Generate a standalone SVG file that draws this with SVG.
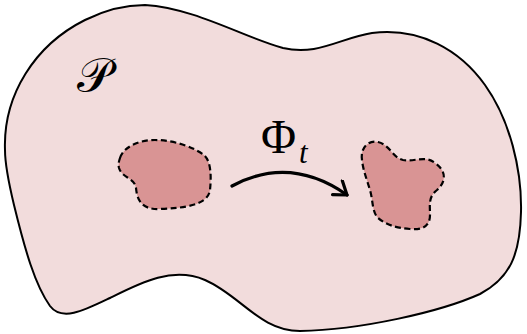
<svg xmlns="http://www.w3.org/2000/svg" width="527" height="334" viewBox="0 0 527 334">
<style>
.outer{fill:#f2dcdc;stroke:#000;stroke-width:2;stroke-linejoin:round}
.blob{fill:#d99494;stroke:#000;stroke-width:2.2;stroke-dasharray:6 3.5;stroke-linejoin:round}
.arrow{fill:none;stroke:#000;stroke-width:3.2;stroke-linecap:round}
.lbl{font-family:"Liberation Serif","DejaVu Serif",serif;fill:#000}
</style>
<defs>
<marker id="ah" viewBox="-14 -10 18 20" markerWidth="18" markerHeight="20" refX="0" refY="0" orient="auto" markerUnits="userSpaceOnUse">
<path d="M -12,-9 L 0,0 L -12,8" fill="none" stroke="#000" stroke-width="3.2" stroke-linecap="round" stroke-linejoin="round"/>
</marker>
</defs>
<g id="space">
<path class="outer" d="M 5,150 C 3,95 35,45 85,20 C 105,10 125,5 145,5 C 195,8 245,38 283,48 C 318,56 340,38 372,33 C 420,27 460,50 485,85 C 510,120 522,170 521,212 C 520,255 510,278 480,294 C 440,312 360,330 300,331 C 260,331 240,295 205,280 C 172,266 140,283 110,298 C 85,310 62,322 50,306 C 35,285 25,250 14,205 C 8,180 5,165 5,150 Z"/>
<text class="lbl" x="77" y="92" font-size="48">𝒫</text>
</g>
<g id="setA">
<path class="blob" d="M 120,158 C 124,146 140,140 155,140 C 175,140 195,148 204,155 C 212,162 211,180 210,190 C 208,205 185,208 160,209 C 140,210 137,198 136,188 C 135,178 122,178 119,168 C 118,164 119,161 120,158 Z"/>
</g>
<g id="setB">
<path class="blob" d="M 362,160 C 360,146 370,140 378,142 C 390,145 393,158 403,160 C 415,162 425,155 435,163 C 448,172 445,183 437,190 C 428,197 430,205 430,215 C 430,228 420,230 410,229 C 395,228 385,224 378,218 C 372,212 373,200 370,190 C 367,180 363,170 362,160 Z"/>
</g>
<g id="connectors">
<path class="arrow" d="M 232,186 Q 290,155 347,195" marker-end="url(#ah)"/>
<text class="lbl" x="261" y="153" font-size="48">Φ</text>
<text class="lbl" x="299" y="163" font-size="31" font-style="italic">t</text>
</g>
</svg>
